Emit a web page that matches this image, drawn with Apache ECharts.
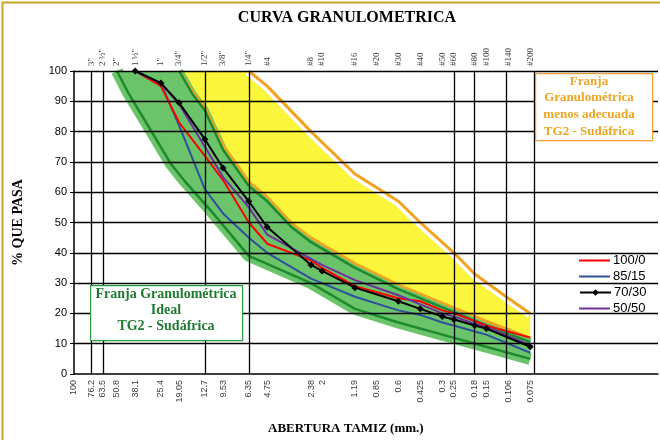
<!DOCTYPE html>
<html><head><meta charset="utf-8">
<script src="https://cdn.jsdelivr.net/npm/echarts@6/dist/echarts.min.js"></script>
<style>html,body{margin:0;padding:0;background:#fff}#c{width:660px;height:440px}</style>
</head><body><div id="c"></div>
<script>
// Sieve openings (mm) and their names
const sieveMm = [100, 76.2, 63.5, 50.8, 38.1, 25.4, 19.05, 12.7, 9.53, 6.35, 4.75, 2.38, 2, 1.19, 0.85, 0.6, 0.425, 0.3, 0.25, 0.18, 0.15, 0.106, 0.075];
const sieveLabels = ['100', '76.2', '63.5', '50.8', '38.1', '25.4', '19.05', '12.7', '9.53', '6.35', '4.75', '2.38', '2', '1.19', '0.85', '0.6', '0.425', '0.3', '0.25', '0.18', '0.15', '0.106', '0.075'];
const sieveNames = ['', '3"', '2 ½"', '2"', '1 ½"', '1"', '3/4"', '1/2"', '3/8"', '1/4"', '#4', '#8', '#10', '#16', '#20', '#30', '#40', '#50', '#60', '#80', '#100', '#140', '#200'];
const gridSieves = [76.2, 63.5, 12.7, 6.35, 0.25, 0.18, 0.106, 0.075];
const yTicks = [10, 20, 30, 40, 50, 60, 70, 80, 90, 100];

// Envelopes [mm, % passing]
const greenUpper = [[19.05, 100], [15.5, 92.5], [12.7, 87], [9.53, 74], [6.35, 62], [4.75, 57], [3.26, 48.6], [2.38, 43.5], [1.19, 35], [0.6, 28], [0.3, 22], [0.15, 16], [0.075, 10.5]];
const greenLower = [[50.8, 100], [42.3, 92.6], [30.8, 81.6], [21.8, 69.5], [17.7, 64], [11.6, 54], [6.35, 39], [2.38, 30], [1.19, 21.5], [0.6, 17], [0.3, 13], [0.15, 9], [0.075, 5]];
const orangeUpper = [[6.35, 100], [4.75, 95], [2.38, 80], [1.19, 66], [0.6, 57], [0.425, 50], [0.25, 40], [0.18, 33], [0.106, 25], [0.075, 20]];
const orangeLower = [[19.05, 100], [15.5, 93.5], [12.7, 88], [9.53, 75.5], [6.35, 63.5], [4.75, 58.5], [3.26, 50], [2.38, 45], [1.19, 36.5], [0.6, 29.5], [0.3, 23.5], [0.15, 17.5], [0.075, 12]];

// Mixes
const mixMm = [38.1, 25.4, 19.05, 12.7, 9.53, 6.35, 4.75, 2.38, 2, 1.19, 0.6, 0.425, 0.3, 0.25, 0.18, 0.15, 0.075];
const mix100_0 = [100, 95, 83, 72, 64, 50, 43, 37.5, 35, 29, 25, 24, 21, 20, 17.5, 16, 12];
const mix85_15 = [100, 96, 82, 61, 53, 45, 40, 31.5, 30, 25.5, 21, 19.5, 17, 16, 14, 13, 7];
const mix70_30 = [100, 96, 89.5, 77.5, 68, 57, 48.5, 36, 34, 28.5, 24, 21.5, 19, 18, 16, 15, 9];
const mix50_50 = [100, 96, 89, 75, 65, 55, 46, 38, 36, 31, 26, 23, 20, 19, 16.5, 15.5, 9.5];

const pairs = (xs, ys) => xs.map((x, i) => [x, ys[i]]);

function polygonBand(upper, lower, color) {
  return function (params, api) {
    if (params.dataIndex !== 0) return null;
    const pts = upper.map(p => api.coord(p)).concat(lower.slice().reverse().map(p => api.coord(p)));
    return { type: 'polygon', shape: { points: pts }, style: { fill: color } };
  };
}

const serif = '"Liberation Serif", "Times New Roman", serif';
const sans = '"Liberation Sans", Arial, sans-serif';
const green = '#1e8a2e';
const lightGreen = '#6cc46a';
const orange = '#f5a21e';

function legendAt(name, top, icon) {
  return {
    orient: 'vertical', left: 574, top: top, itemWidth: 31, itemHeight: icon ? 2 : 8, itemGap: 0,
    data: [icon ? { name: name, icon: icon } : name], selectedMode: false,
    textStyle: { fontFamily: sans, fontSize: 13, color: '#000', padding: [0, 0, 0, -2] }
  };
}

function boxText(text, x, y, color, size) {
  return { type: 'text', x: x, y: y, z: 51, style: { text: text, fill: color, font: 'bold ' + size + 'px ' + serif, align: 'center', verticalAlign: 'middle' } };
}

const chart = echarts.init(document.getElementById('c'));
chart.setOption({
  animation: false,
  backgroundColor: '#fff',
  title: {
    text: 'CURVA GRANULOMETRICA', left: 342, top: 5, textAlign: 'center',
    textStyle: { fontFamily: serif, fontWeight: 'bold', fontSize: 16, color: '#000' }
  },
  grid: { left: 74, top: 71, width: 584, height: 303 },
  xAxis: {
    type: 'log', logBase: 10, min: 0.01, max: 100, inverse: true,
    axisLine: { show: true, lineStyle: { color: '#000', width: 1.5 } },
    axisTick: { show: false }, axisLabel: { show: false }, splitLine: { show: false }
  },
  yAxis: {
    type: 'value', min: 0, max: 100, interval: 10,
    axisLine: { show: true, lineStyle: { color: '#000', width: 1.5 } },
    axisTick: { show: true, length: 4, lineStyle: { color: '#000' } },
    axisLabel: { fontFamily: sans, fontSize: 11, color: '#000', margin: 7 },
    splitLine: { show: false },
    name: '% QUE PASA', nameLocation: 'middle', nameGap: 49, nameRotate: 90,
    nameTextStyle: { fontFamily: serif, fontWeight: 'bold', fontSize: 14, color: '#000' }
  },
  legend: [
    legendAt('100/0', 249, 'rect'),
    legendAt('85/15', 265, 'rect'),
    legendAt('70/30', 281, null),
    legendAt('50/50', 297, 'rect')
  ],
  series: [
    { type: 'custom', name: 'yellowBand', z: 0, silent: true, data: orangeUpper, renderItem: polygonBand(orangeUpper, orangeLower, '#fbf53c') },
    { type: 'line', name: 'halo', z: 0, data: orangeUpper, symbol: 'none', silent: true, lineStyle: { color: '#fff', width: 10 } },
    { type: 'custom', name: 'greenBand', z: 0, silent: true, data: greenUpper, renderItem: polygonBand(greenUpper, greenLower, lightGreen) },
    { type: 'line', name: 'gu halo', z: 0, data: greenUpper, symbol: 'none', silent: true, lineStyle: { color: lightGreen, width: 8 } },
    { type: 'line', name: 'gl halo', z: 0, data: greenLower, symbol: 'none', silent: true, lineStyle: { color: lightGreen, width: 12 } },
    {
      type: 'line', name: 'grid', z: 1, data: [], silent: true,
      markLine: {
        silent: true, symbol: 'none', label: { show: false },
        lineStyle: { color: '#000', width: 1.3, type: 'solid' },
        data: yTicks.map(v => ({ yAxis: v })).concat(gridSieves.map(v => ({ xAxis: v })))
      }
    },
    { type: 'line', name: 'orangeUpper', z: 2, data: orangeUpper, symbol: 'none', silent: true, lineStyle: { color: orange, width: 3 } },
    { type: 'line', name: 'orangeLower', z: 2, data: orangeLower, symbol: 'none', silent: true, lineStyle: { color: orange, width: 2.5 } },
    { type: 'line', name: 'greenUpper', z: 2, data: greenUpper, symbol: 'none', silent: true, lineStyle: { color: green, width: 2.5 } },
    { type: 'line', name: 'greenLower', z: 2, data: greenLower, symbol: 'none', silent: true, lineStyle: { color: green, width: 2.5 } },
    { type: 'line', name: '85/15', z: 3, data: pairs(mixMm, mix85_15), symbol: 'none', color: '#2f4f9f', lineStyle: { width: 2 } },
    { type: 'line', name: '100/0', z: 3, data: pairs(mixMm, mix100_0), symbol: 'none', color: '#ff0000', lineStyle: { width: 2 } },
    { type: 'line', name: '50/50', z: 3, data: pairs(mixMm, mix50_50), symbol: 'none', color: '#7030a0', lineStyle: { width: 2 } },
    { type: 'line', name: '70/30', z: 4, data: pairs(mixMm, mix70_30), symbol: 'diamond', symbolSize: 7, showSymbol: true, color: '#000', lineStyle: { width: 2 } },
    {
      type: 'scatter', name: 'bottomLabels', z: 5, silent: true, clip: false, symbolSize: 0,
      data: sieveMm.map(v => [v, 0]),
      label: {
        show: true, position: [0, 6], align: 'right', verticalAlign: 'middle', rotate: 90,
        fontFamily: sans, fontSize: 9, color: '#000',
        formatter: p => sieveLabels[p.dataIndex]
      }
    },
    {
      type: 'scatter', name: 'topLabels', z: 5, silent: true, clip: false, symbolSize: 0,
      data: sieveMm.map(v => [v, 100]),
      label: {
        show: true, position: [0, -5], align: 'left', verticalAlign: 'middle', rotate: 90,
        fontFamily: serif, fontSize: 9, color: '#000',
        formatter: p => sieveNames[p.dataIndex]
      }
    }
  ],
  graphic: [
    { type: 'rect', left: 0, top: 0, shape: { width: 659, height: 439 }, style: { fill: 'none', stroke: '#c9a52a', lineWidth: 2 }, z: 100 },
    { type: 'text', left: 268, top: 422, z: 50, style: { text: 'ABERTURA TAMIZ (mm.)', fill: '#000', font: 'bold 13px ' + serif } },
    { type: 'rect', left: 90, top: 285, z: 50, shape: { width: 152, height: 55 }, style: { fill: '#fff', stroke: '#2e9a44', lineWidth: 1.2 } },
    boxText('Franja Granulométrica', 166, 294, '#1e7a30', 14),
    boxText('Ideal', 166, 310, '#1e7a30', 14),
    boxText('TG2 - Sudáfrica', 166, 326, '#1e7a30', 14),
    { type: 'rect', left: 535, top: 73, z: 50, shape: { width: 117, height: 67 }, style: { fill: '#fff', stroke: '#f0a030', lineWidth: 1.2 } },
    boxText('Franja', 589, 82, '#eea520', 13),
    boxText('Granulométrica', 589, 98, '#eea520', 13),
    boxText('menos adecuada', 589, 115, '#eea520', 13),
    boxText('TG2 - Sudáfrica', 589, 132, '#eea520', 13)
  ]
});
</script></body></html>
